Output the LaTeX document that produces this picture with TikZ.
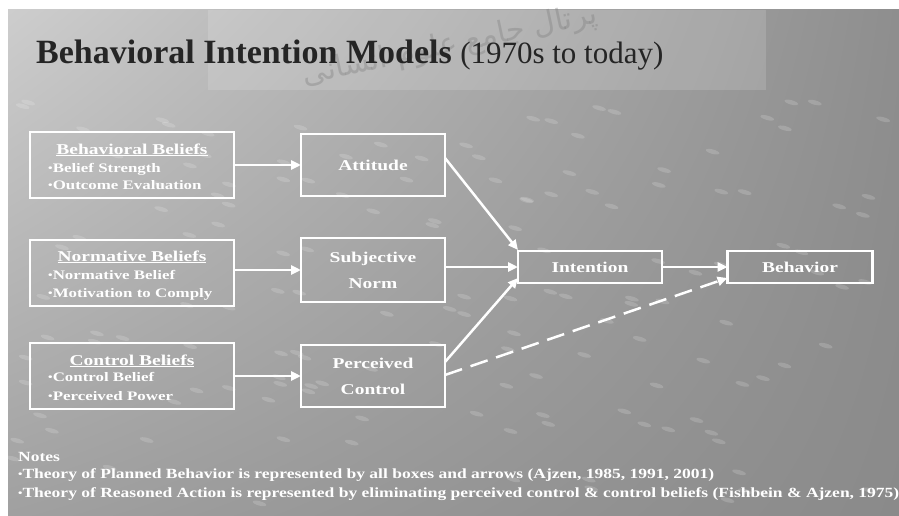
\documentclass[tikz,border=0pt]{standalone}
\usepackage{fontspec}
\setmainfont{Liberation Serif}
\newfontfamily\boxfont[FakeStretch=1.3]{Liberation Serif}
\newfontfamily\notefont[FakeStretch=1.25]{Liberation Serif}
\newfontfamily\arabicfont[Script=Arabic]{DejaVu Sans}
\TeXXeTstate=1
\usetikzlibrary{arrows.meta,calc,shadings}

\definecolor{bgtl}{HTML}{CDCDCD}
\definecolor{bgtr}{HTML}{8E8E8E}
\definecolor{bgbl}{HTML}{A0A0A0}
\definecolor{bgbr}{HTML}{8A8A8A}
\definecolor{titleink}{HTML}{252525}
\definecolor{marktint}{HTML}{7A7A7A}

\newcommand{\bulletmark}{{\fontsize{10}{10}\selectfont\raisebox{0.5pt}{•}}}

\begin{document}
\begin{tikzpicture}[x=1pt,y=-1pt,
  frame/.style={draw=white, line width=2.5pt, inner sep=0pt, outer sep=0pt},
  boxtext/.style={text=white, font=\boxfont\bfseries\fontsize{15}{26}\selectfont, align=center},
  beltitle/.style={text=white, font=\boxfont\bfseries\fontsize{15}{18}\selectfont, inner sep=0pt},
  belitem/.style={text=white, font=\boxfont\bfseries\fontsize{13}{16}\selectfont, inner sep=0pt},
  notes/.style={text=white, font=\notefont\bfseries\fontsize{14}{16}\selectfont, inner sep=0pt},
  link/.style={draw=white, line width=2.5pt, -{Triangle[length=10pt,width=9pt]}},
  dashlink/.style={link, dash pattern=on 18pt off 9pt}
]
\path[use as bounding box] (0,0) rectangle (899,516);
\clip (0,0) rectangle (899,516);

% page and slide background
\fill[white] (0,0) rectangle (899,516);
\shade[upper left=bgtl, upper right=bgtr, lower left=bgbl, lower right=bgbr]
  (8,10) rectangle (899,516);

% rivet-like specks on the surface
\pgfmathsetseed{11}
\foreach \i in {1,...,150}{
  \pgfmathsetmacro\sx{rnd*880+12}
  \pgfmathsetmacro\sy{rnd*410+100}
  \fill[white, opacity=.16, rotate around={-15:(\sx,\sy)}] (\sx,\sy) ellipse (7 and 2.2);
}

% lighter band behind the heading
\fill[white, opacity=.14] (208,10) rectangle (766,90);

% faint stamp
\node[rotate=12, text=marktint, opacity=.35,
      font=\arabicfont\fontsize{30}{30}\selectfont] (stamp) at (450,46)
  {\beginR پرتال جامع علوم انسانی\endR};

% heading
\node[anchor=base west, inner sep=0pt, text=titleink] (title) at (36,64)
  {\fontsize{34}{34}\selectfont\bfseries Behavioral Intention Models
   \fontsize{31}{31}\selectfont\mdseries (1970s to today)};

% belief boxes
\node[frame, minimum width=204pt, minimum height=66pt] (bb) at (132,165) {};
\node[beltitle, anchor=base] (bbt) at ($(bb.north)+(0,22)$) {\underline{Behavioral Beliefs}};
\node[belitem, anchor=base west] (bb1) at ($(bb.north west)+(18,40)$) {\bulletmark Belief Strength};
\node[belitem, anchor=base west] (bb2) at ($(bb.north west)+(18,57)$) {\bulletmark Outcome Evaluation};

\node[frame, minimum width=204pt, minimum height=66pt] (nb) at (132,273) {};
\node[beltitle, anchor=base] (nbt) at ($(nb.north)+(0,21)$) {\underline{Normative Beliefs}};
\node[belitem, anchor=base west] (nb1) at ($(nb.north west)+(18,39)$) {\bulletmark Normative Belief};
\node[belitem, anchor=base west] (nb2) at ($(nb.north west)+(18,57)$) {\bulletmark Motivation to Comply};

\node[frame, minimum width=204pt, minimum height=66pt] (cb) at (132,376) {};
\node[beltitle, anchor=base] (cbt) at ($(cb.north)+(0,22)$) {\underline{Control Beliefs}};
\node[belitem, anchor=base west] (cb1) at ($(cb.north west)+(18,38)$) {\bulletmark Control Belief};
\node[belitem, anchor=base west] (cb2) at ($(cb.north west)+(18,57)$) {\bulletmark Perceived Power};

% construct boxes
\node[frame, boxtext, minimum width=144pt, minimum height=62pt] (att) at (373,165) {Attitude};
\node[frame, boxtext, minimum width=144pt, minimum height=64pt] (sn) at (373,270) {Subjective\\Norm};
\node[frame, boxtext, minimum width=144pt, minimum height=62pt] (pc) at (373,376) {Perceived\\Control};
\node[frame, boxtext, minimum width=144pt, minimum height=32pt] (int) at (590,267) {Intention};
\node[frame, boxtext, minimum width=145pt, minimum height=32pt] (beh) at (800,267) {Behavior};

% connectors
\draw[link] (bb.east) -- (att.west);
\draw[link] (nb.east |- sn.west) -- (sn.west);
\draw[link] (cb.east) -- (pc.west);
\draw[link] ($(att.east)+(0,-7)$) -- ($(int.north west)+(0,-1)$);
\draw[link] (sn.east |- int.west) -- (int.west);
\draw[link] ($(pc.east)+(0,-14)$) -- ($(int.south west)+(0,-5)$);
\draw[link] (int.east) -- (beh.west);
\draw[dashlink] ($(pc.east)+(0,-1)$) -- ($(beh.south west)+(0,-5)$);

% notes
\node[notes, anchor=base west] (nt) at (18,461) {Notes};
\node[notes, anchor=base west] (n1) at (18,478)
  {\bulletmark Theory of Planned Behavior is represented by all boxes and arrows (Ajzen, 1985, 1991, 2001)};
\node[notes, anchor=base west] (n2) at (18,497)
  {\bulletmark Theory of Reasoned Action is represented by eliminating perceived control \& control beliefs (Fishbein \& Ajzen, 1975)};
\end{tikzpicture}
\end{document}
